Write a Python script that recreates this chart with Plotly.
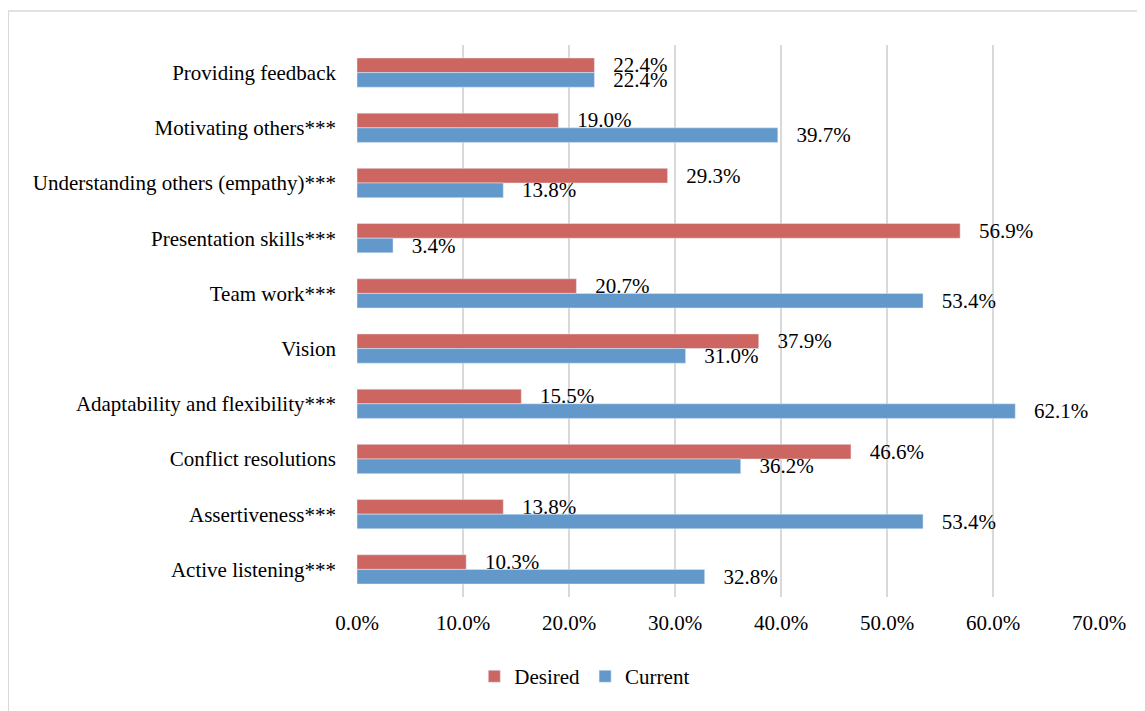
import plotly.graph_objects as go

categories = ["Providing feedback", "Motivating others***", "Understanding others (empathy)***",
              "Presentation skills***", "Team work***", "Vision", "Adaptability and flexibility***",
              "Conflict resolutions", "Assertiveness***", "Active listening***"]
desired = [22.4, 19.0, 29.3, 56.9, 20.7, 37.9, 15.5, 46.6, 13.8, 10.3]
current = [22.4, 39.7, 13.8, 3.4, 53.4, 31.0, 62.1, 36.2, 53.4, 32.8]
tick_vals = [0, 10, 20, 30, 40, 50, 60, 70]
tick_text = ["0.0%", "10.0%", "20.0%", "30.0%", "40.0%", "50.0%", "60.0%", "70.0%"]

FONT = "Liberation Serif, Times New Roman, serif"
PAD = "\u00a0\u00a0\u00a0"

fig = go.Figure()
fig.add_trace(go.Bar(name="Desired", y=categories, x=desired, orientation="h",
                     marker=dict(color="#CD6660"),
                     text=[PAD + f"{v:.1f}%" for v in desired], textposition="outside",
                     constraintext="none", cliponaxis=False,
                     textfont=dict(family=FONT, size=21, color="#000000")))
fig.add_trace(go.Bar(name="Current", y=categories, x=current, orientation="h",
                     marker=dict(color="#6398CB"),
                     text=[PAD + f"{v:.1f}%" for v in current], textposition="outside",
                     constraintext="none", cliponaxis=False,
                     textfont=dict(family=FONT, size=21, color="#000000")))

fig.update_layout(
    width=1137, height=703,
    barmode="group", bargap=0.47, bargroupgap=0,
    paper_bgcolor="white", plot_bgcolor="white",
    margin=dict(l=349, r=46, t=37, b=114),
    font=dict(family=FONT, size=21, color="#000000"),
    xaxis=dict(range=[0, 70], tickvals=tick_vals, ticktext=tick_text,
               showgrid=True, gridcolor="#D9D9D9", gridwidth=2,
               zeroline=False, showline=False, ticks="", ticklabelstandoff=11,
               tickfont=dict(family=FONT, size=21)),
    yaxis=dict(autorange="reversed", showgrid=False, zeroline=False, showline=False,
               ticks="", ticklabelstandoff=20, tickfont=dict(family=FONT, size=21)),
    legend=dict(orientation="h", x=0.307, xanchor="center", y=-0.107, yanchor="top",
                font=dict(family=FONT, size=21), itemwidth=30, traceorder="normal"),
    shapes=[dict(type="rect", xref="paper", yref="paper",
                 x0=-0.470, x1=1.08, y0=-0.23, y1=1.0616,
                 line=dict(color="#D9D9D9", width=1.5), layer="below")],
)
fig.write_html("out.html")
